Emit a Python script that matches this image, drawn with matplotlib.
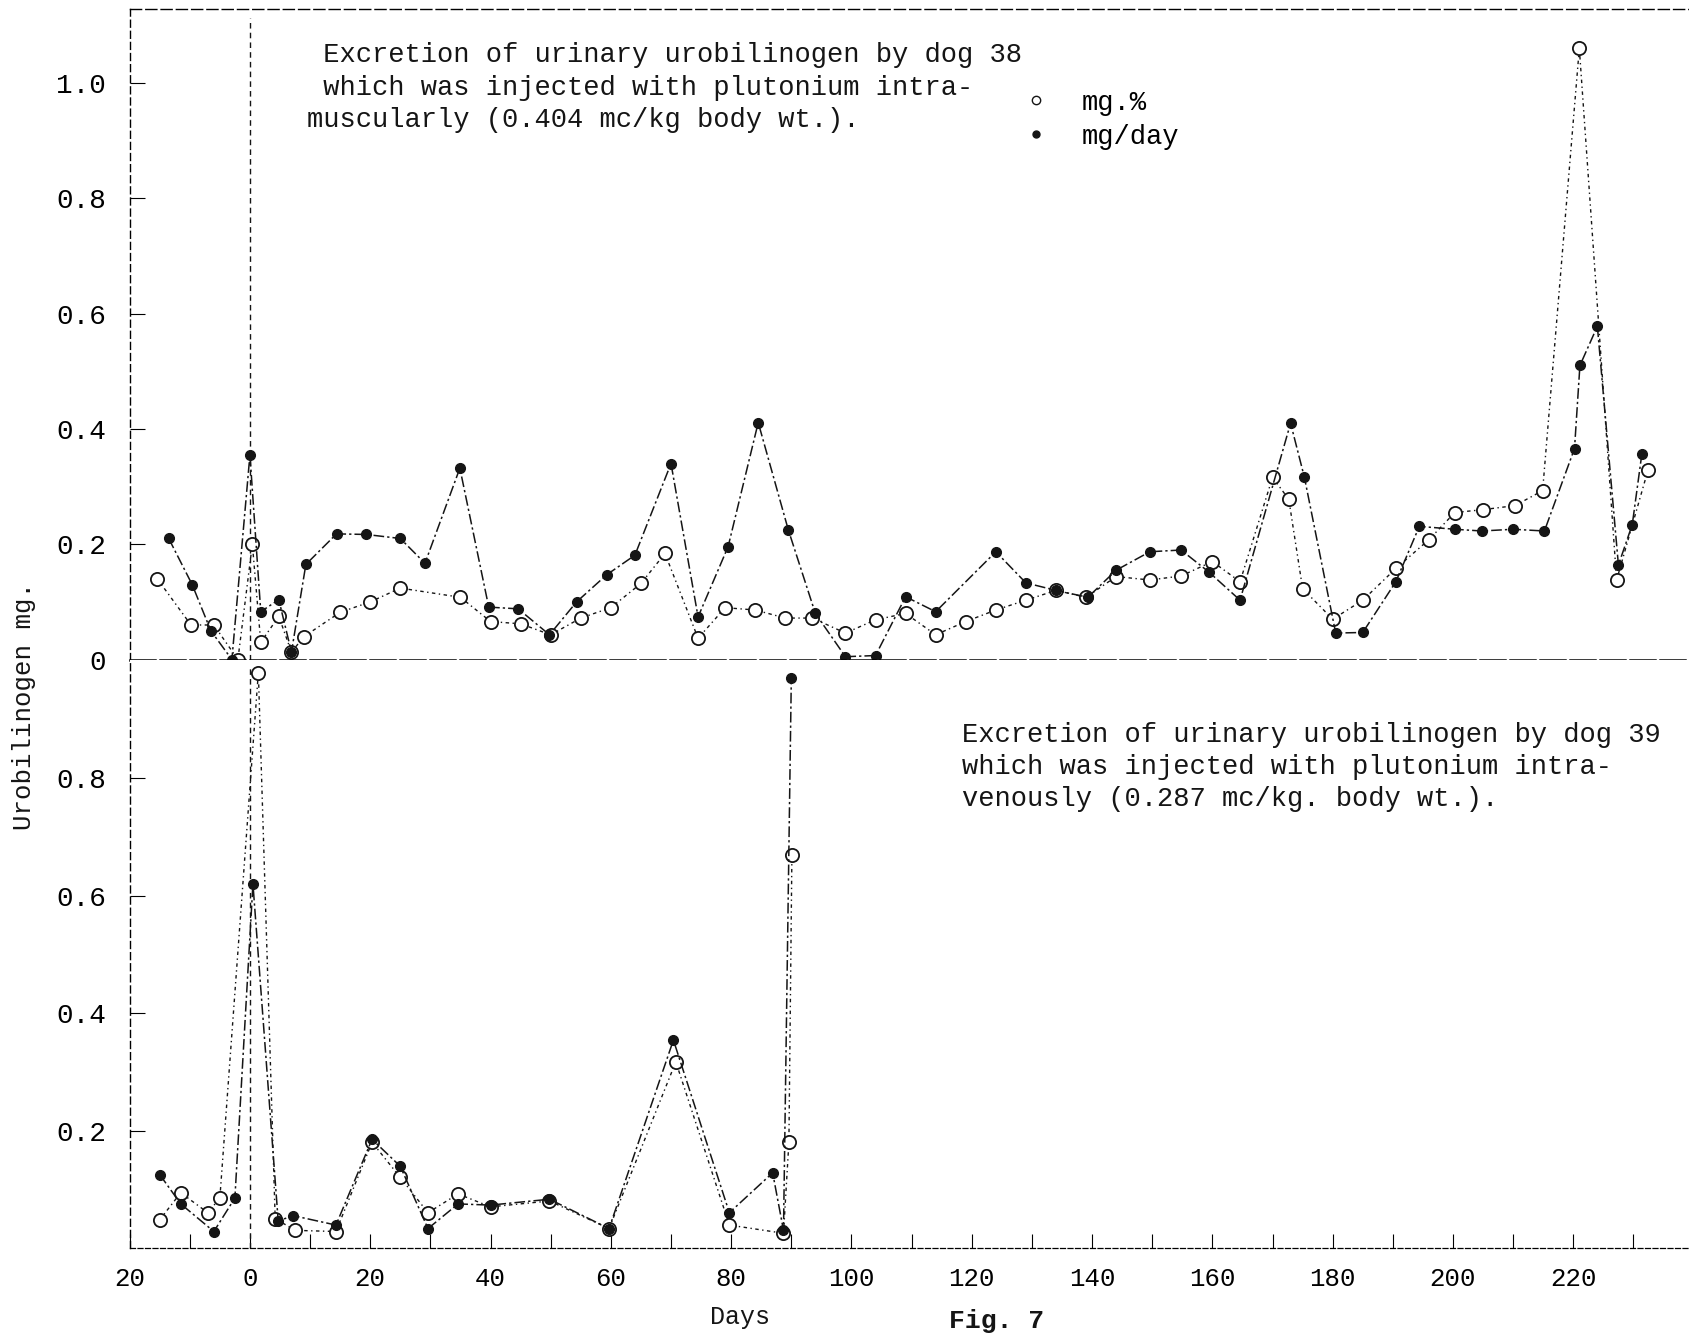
import matplotlib
matplotlib.use("Agg")
import matplotlib.pyplot as plt
from matplotlib.lines import Line2D
from matplotlib.ticker import MultipleLocator

plt.rcParams["font.family"] = ["Liberation Mono", "DejaVu Sans Mono"]

# dog 38 (intramuscular) -- upper panel
d38_pct_days = [-15.4, -9.8, -6, -2, 0.4, 1.8, 4.8, 6.9, 9, 15, 20, 25, 35, 40, 45, 50,
                55, 60, 65, 69, 74.5, 79, 84, 89, 93.5, 99, 104, 109, 114, 119, 124, 129,
                134, 139, 144, 149.6, 154.8, 160, 164.6, 170, 172.7, 175, 180, 185, 190.5,
                196, 200.3, 205, 210.3, 214.9, 221, 227.2, 232.4]
d38_pct = [0.14, 0.06, 0.06, 0.0, 0.2, 0.03, 0.075, 0.013, 0.04, 0.082, 0.1, 0.124, 0.108,
           0.066, 0.062, 0.043, 0.072, 0.09, 0.132, 0.184, 0.037, 0.09, 0.086, 0.072, 0.072,
           0.046, 0.069, 0.08, 0.043, 0.066, 0.086, 0.103, 0.12, 0.108, 0.144, 0.138, 0.145,
           0.17, 0.135, 0.316, 0.278, 0.123, 0.07, 0.103, 0.158, 0.208, 0.255, 0.26, 0.267,
           0.293, 1.06, 0.138, 0.328]

d38_day_days = [-13.5, -9.6, -6.5, -3, 0, 1.8, 4.8, 6.9, 9.3, 14.4, 19.3, 25, 29.1, 34.9,
                39.7, 44.6, 49.8, 54.3, 59.3, 64, 70, 74.5, 79.5, 84.5, 89.5, 94, 99, 104,
                109, 114, 124, 129, 134, 139.3, 144, 149.6, 154.8, 159.4, 164.6, 173, 175.3,
                180.5, 185, 190.5, 194.4, 200.3, 204.8, 210, 215.2, 220.2, 221.1, 224, 227.5,
                229.8, 231.4]
d38_day = [0.21, 0.13, 0.05, 0.0, 0.355, 0.083, 0.104, 0.013, 0.165, 0.218, 0.217, 0.21,
           0.167, 0.332, 0.091, 0.088, 0.043, 0.1, 0.147, 0.181, 0.34, 0.074, 0.196, 0.411,
           0.225, 0.08, 0.005, 0.007, 0.109, 0.083, 0.187, 0.133, 0.12, 0.108, 0.155, 0.187,
           0.19, 0.152, 0.103, 0.41, 0.316, 0.046, 0.047, 0.135, 0.231, 0.226, 0.223, 0.226,
           0.223, 0.366, 0.51, 0.578, 0.164, 0.234, 0.357]

# dog 39 (intravenous) -- lower panel
d39_pct_days = [-15, -11.5, -7, -5, 1.4, 4.2, 7.5, 14.3, 20.3, 25, 29.6, 34.6, 40, 49.8,
                59.7, 70.8, 79.7, 88.7, 89.6, 90.1]
d39_pct = [0.048, 0.094, 0.06, 0.085, 0.98, 0.05, 0.03, 0.028, 0.18, 0.12, 0.06, 0.092,
           0.07, 0.08, 0.033, 0.317, 0.039, 0.025, 0.18, 0.67]

d39_day_days = [-15, -11.5, -6, -2.5, 0.5, 4.7, 7.2, 14.3, 20.3, 25, 29.6, 34.6, 40, 49.8,
                59.7, 70.4, 79.7, 86.9, 88.7, 90]
d39_day = [0.125, 0.075, 0.028, 0.085, 0.62, 0.046, 0.055, 0.039, 0.185, 0.139, 0.033,
           0.075, 0.073, 0.083, 0.033, 0.354, 0.06, 0.128, 0.03, 0.97]

x_ticks = list(range(-20, 221, 20))
x_labels = [str(abs(v)) for v in x_ticks]
top_yticks = [0, 0.2, 0.4, 0.6, 0.8, 1.0]
top_ylabels = ["0", "0.2", "0.4", "0.6", "0.8", "1.0"]
bot_yticks = [0.2, 0.4, 0.6, 0.8]
bot_ylabels = ["0.2", "0.4", "0.6", "0.8"]

ink = "#151515"
pct_ls = (0, (2.5, 2.5, 1, 2.5))
day_ls = (0, (7, 2, 1.5, 2))
pct_style = dict(color=ink, lw=1.0, ls=pct_ls, marker="o", ms=9.5, mfc="white",
                 mec=ink, mew=1.3, clip_on=False)
day_style = dict(color=ink, lw=1.1, ls=day_ls, marker="o", ms=7, mfc=ink,
                 mec=ink, clip_on=False)

fig = plt.figure(figsize=(16.9, 13.36), dpi=100)
ax_top = fig.add_axes([0.0767, 0.5063, 0.9233, 0.4873])
ax_bot = fig.add_axes([0.0767, 0.0659, 0.9233, 0.4404])

for ax in (ax_top, ax_bot):
    ax.set_xlim(-20, 239.4)
    ax.spines["right"].set_visible(False)
    ax.spines["left"].set_linestyle((0, (5, 3)))
    ax.spines["left"].set_linewidth(1.0)
    ax.axvline(0, color=ink, lw=1.0, ls=(0, (4, 3)), ymax=0.985)
    ax.tick_params(axis="y", direction="in", length=11, width=0.8, pad=17,
                   labelsize=20)

ax_top.set_ylim(0, 1.129)
ax_top.spines["top"].set_linestyle((0, (8, 3)))
ax_top.spines["top"].set_linewidth(1.0)
ax_top.spines["bottom"].set_linestyle((0, (10, 2)))
ax_top.spines["bottom"].set_linewidth(1.8)
ax_top.set_xticks([])
ax_top.set_yticks(top_yticks)
ax_top.set_yticklabels(top_ylabels)

ax_bot.set_ylim(0, 1.002)
ax_bot.spines["top"].set_visible(False)
ax_bot.spines["bottom"].set_linestyle((0, (4, 2)))
ax_bot.spines["bottom"].set_linewidth(0.9)
ax_bot.set_yticks(bot_yticks)
ax_bot.set_yticklabels(bot_ylabels)
ax_bot.set_xticks(x_ticks)
ax_bot.set_xticklabels(x_labels)
ax_bot.xaxis.set_minor_locator(MultipleLocator(10))
ax_bot.tick_params(axis="x", which="both", direction="in", length=10, width=0.8,
                   pad=14, labelsize=18.5)

ax_top.plot(d38_pct_days, d38_pct, **pct_style)
ax_top.plot(d38_day_days, d38_day, **day_style)
ax_bot.plot(d39_pct_days, d39_pct, **pct_style)
ax_bot.plot(d39_day_days, d39_day, **day_style)

handles = [Line2D([], [], ls="none", marker="o", ms=6, mfc="white", mec=ink, mew=1.0),
           Line2D([], [], ls="none", marker="o", ms=5, mfc=ink, mec=ink)]
ax_top.legend(handles, ["mg.%", "mg/day"], loc="upper left",
              bbox_to_anchor=(0.6, 0.943), bbox_transform=fig.transFigure,
              frameon=False, fontsize=19.5, handlelength=0.6, handletextpad=1.4,
              labelspacing=0.3, borderpad=0)

fig.text(0.1817, 0.9686,
         " Excretion of urinary urobilinogen by dog 38\n"
         " which was injected with plutonium intra-\n"
         "muscularly (0.404 mc/kg body wt.).",
         ha="left", va="top", fontsize=19.5, linespacing=1.33, color=ink)
fig.text(0.569, 0.4596,
         "Excretion of urinary urobilinogen by dog 39\n"
         "which was injected with plutonium intra-\n"
         "venously (0.287 mc/kg. body wt.).",
         ha="left", va="top", fontsize=19.5, linespacing=1.3, color=ink)

fig.text(0.014, 0.4716, "Urobilinogen mg.", rotation=90, ha="center", va="center",
         fontsize=18.5, color=ink)
fig.text(0.438, 0.0142, "Days", ha="center", va="center", fontsize=18, color=ink)
fig.text(0.59, 0.0115, "Fig. 7", ha="center", va="center", fontsize=19,
         fontweight="bold", color=ink)

fig.savefig("out.png", dpi=100, facecolor="white")
